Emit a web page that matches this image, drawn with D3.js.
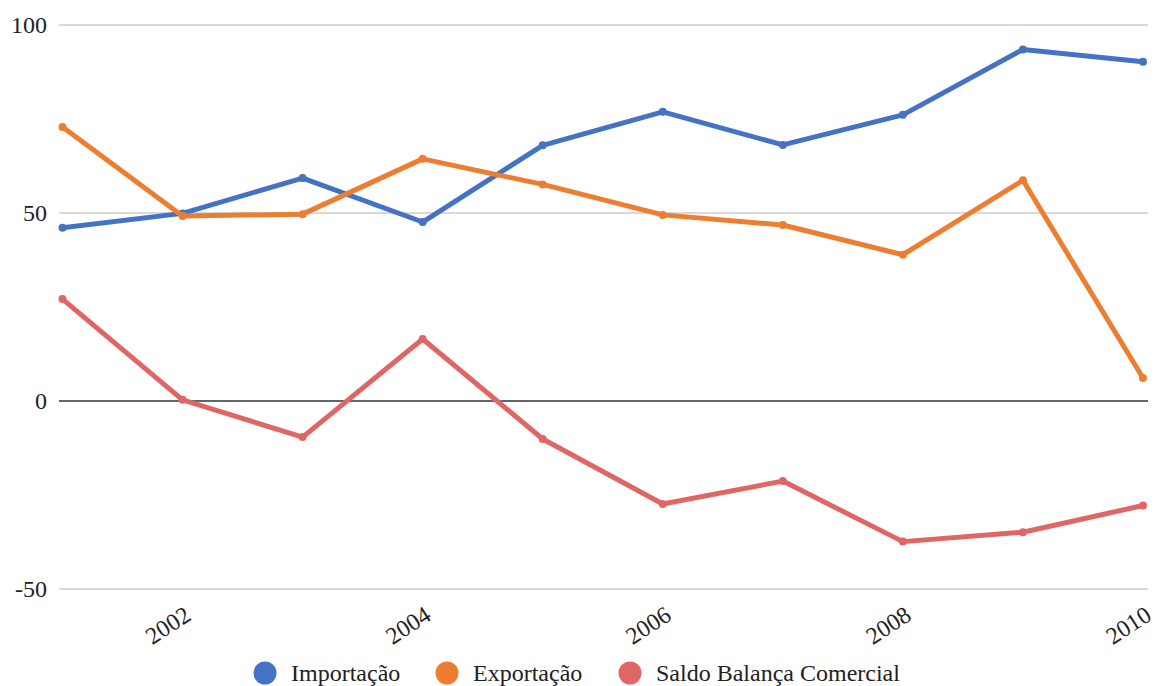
<!DOCTYPE html>
<html>
<head>
<meta charset="utf-8">
<script src="https://cdn.jsdelivr.net/npm/d3@7"></script>
<style>
  html, body { margin: 0; padding: 0; background: #fff; }
  svg { display: block; }
</style>
</head>
<body>
<svg id="chart" width="1158" height="686"></svg>
<script>
// Trade balance series, 2001–2010
const years = [2001, 2002, 2003, 2004, 2005, 2006, 2007, 2008, 2009, 2010];
const importacao = [46.1, 49.9, 59.3, 47.6, 68.0, 76.9, 68.1, 76.1, 93.5, 90.2];
const exportacao = [72.9, 49.2, 49.7, 64.4, 57.6, 49.5, 46.8, 38.9, 58.7, 6.1];
const saldo = [27.1, 0.3, -9.6, 16.5, -10.1, -27.4, -21.3, -37.4, -34.9, -27.8];
const yTicks = [-50, 0, 50, 100];
const xTicks = [2002, 2004, 2006, 2008, 2010];
const seriesNames = ["Importação", "Exportação", "Saldo Balança Comercial"];
const seriesColors = ["#4472c4", "#ed7d31", "#e06666"];

const FONT = "'Liberation Serif', 'Times New Roman', Times, serif";

const series = [importacao, exportacao, saldo].map((vals, i) => ({
  name: seriesNames[i],
  color: seriesColors[i],
  points: years.map((yr, j) => ({ year: yr, value: vals[j] }))
}));

const svg = d3.select("#chart");
const plot = { left: 59, right: 1148, top: 25, bottom: 589 };

const x = d3.scaleLinear().domain([2001, 2010]).range([62.5, 1143]);
const y = d3.scaleLinear().domain([-50, 100]).range([plot.bottom, plot.top]);

// Horizontal gridlines
svg.append("g")
  .selectAll("line")
  .data(yTicks)
  .join("line")
  .attr("x1", plot.left)
  .attr("x2", plot.right)
  .attr("y1", d => y(d))
  .attr("y2", d => y(d))
  .attr("stroke", d => d === 0 ? "#333" : "#ccc")
  .attr("stroke-width", d => d === 0 ? 1.5 : 1.3);

// Y axis labels
svg.append("g")
  .selectAll("text")
  .data(yTicks)
  .join("text")
  .attr("x", 47)
  .attr("y", d => y(d))
  .attr("dy", "0.35em")
  .attr("text-anchor", "end")
  .attr("font-family", FONT)
  .attr("font-size", 24)
  .attr("fill", "#222")
  .text(d => d);

// X axis labels, slanted
svg.append("g")
  .selectAll("text")
  .data(xTicks)
  .join("text")
  .attr("transform", d => `translate(${x(d) + 10},${619}) rotate(-33)`)
  .attr("text-anchor", "end")
  .attr("font-family", FONT)
  .attr("font-size", 24)
  .attr("fill", "#222")
  .text(d => d);

// Lines and point markers
const line = d3.line().x(d => x(d.year)).y(d => y(d.value));

const g = svg.append("g")
  .selectAll("g")
  .data(series)
  .join("g");

g.append("path")
  .attr("d", d => line(d.points))
  .attr("fill", "none")
  .attr("stroke", d => d.color)
  .attr("stroke-width", 5)
  .attr("stroke-linejoin", "round")
  .attr("stroke-linecap", "round");

g.selectAll("circle")
  .data(d => d.points.map(p => ({ ...p, color: d.color })))
  .join("circle")
  .attr("cx", d => x(d.year))
  .attr("cy", d => y(d.value))
  .attr("r", 4)
  .attr("fill", d => d.color);

// Legend
const legendX = [265, 447, 630];
const legend = svg.append("g")
  .selectAll("g")
  .data(series)
  .join("g")
  .attr("transform", (d, i) => `translate(${legendX[i]},673)`);

legend.append("circle")
  .attr("r", 11.5)
  .attr("fill", d => d.color);

legend.append("text")
  .attr("x", 26)
  .attr("dy", "0.33em")
  .attr("font-family", FONT)
  .attr("font-size", 24)
  .attr("fill", "#222")
  .text(d => d.name);
</script>
</body>
</html>
